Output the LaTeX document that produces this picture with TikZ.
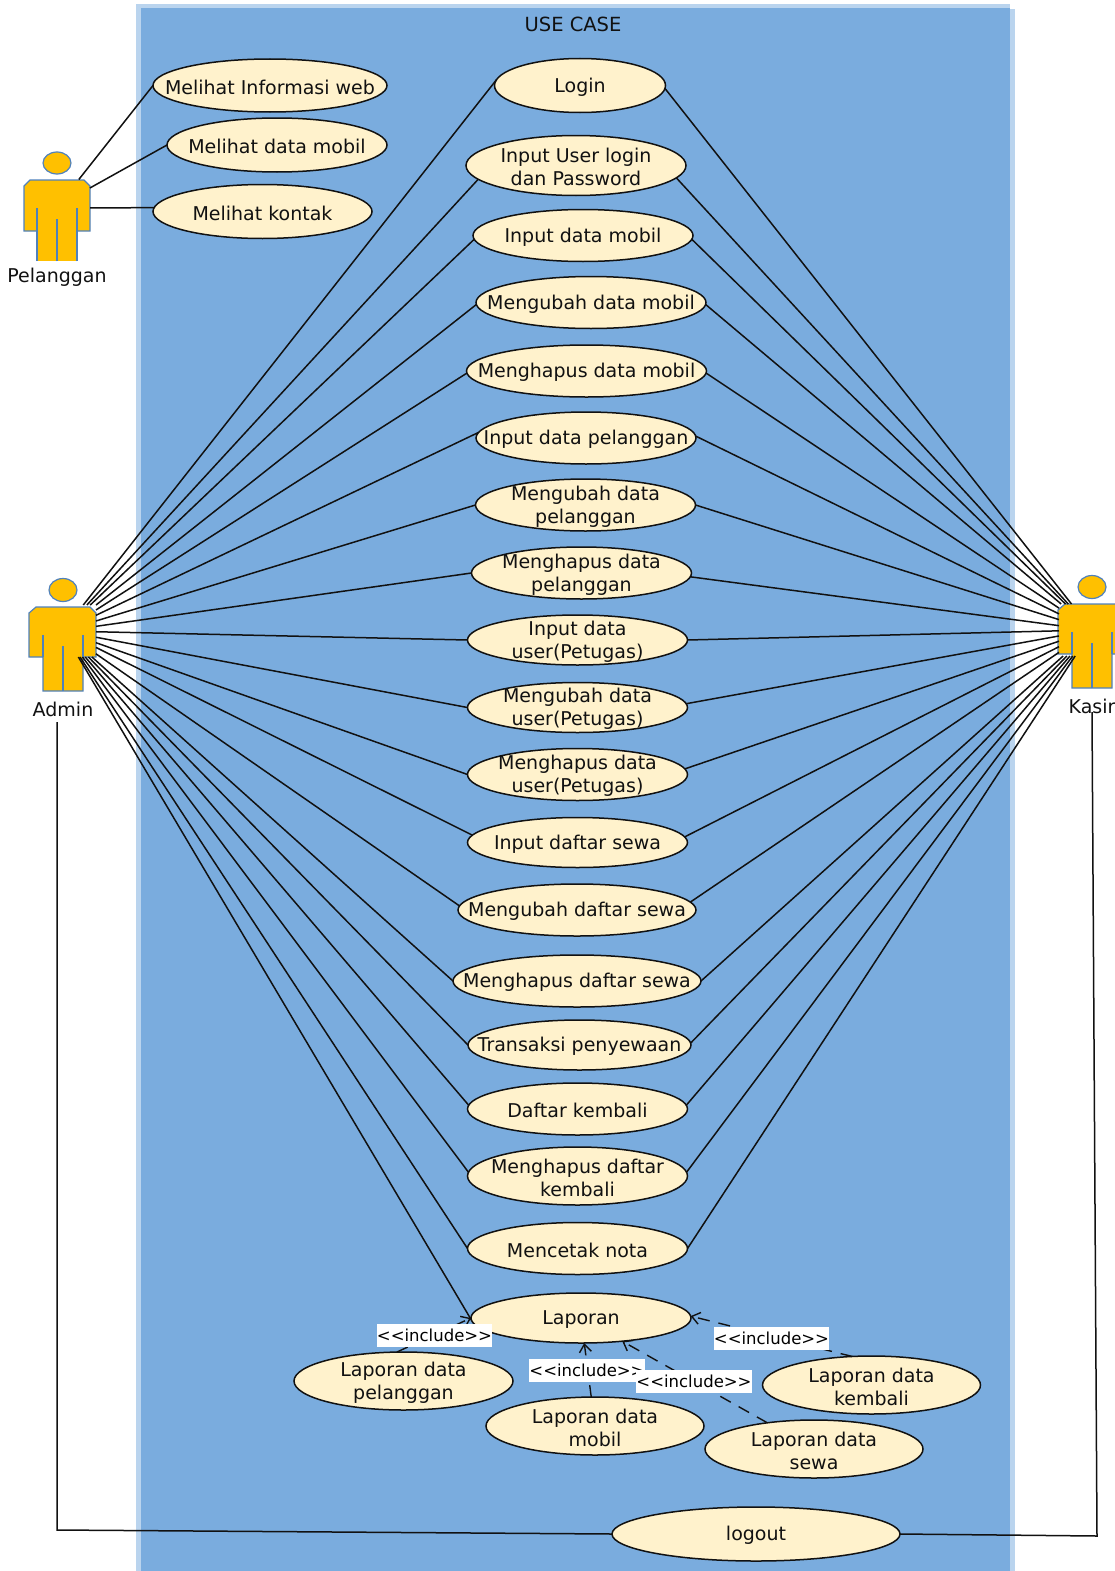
\documentclass[tikz,border=0pt]{standalone}
\usepackage{fontspec}
\setmainfont{DejaVu Sans}
\usetikzlibrary{shapes.geometric,arrows.meta}
\definecolor{panel}{HTML}{7AACDE}
\definecolor{panellight}{HTML}{BAD4EE}
\definecolor{ucfill}{HTML}{FFF2CC}
\definecolor{actorfill}{HTML}{FFC000}
\definecolor{actorline}{HTML}{4F81BD}
\definecolor{ink}{HTML}{111111}
\tikzset{
  ucase/.style={ellipse,draw=ink,line width=1.5pt,fill=ucfill,inner sep=0pt,outer sep=0pt},
  uctext/.style={align=center,text=ink,inner sep=0pt,font=\fontsize{19}{23}\selectfont},
  conn/.style={draw=ink,line width=1.5pt},
  incl/.style={draw=ink,line width=1.4pt,dash pattern=on 12pt off 9pt,-{Straight Barb[length=8pt,width=12pt]}},
  incllabel/.style={fill=white,text=black,inner sep=0pt,minimum width=115pt,minimum height=23pt,font=\fontsize{16.5}{20}\selectfont},
  actorshape/.style={draw=actorline,line width=1.2pt,fill=actorfill},
  actorinner/.style={draw=actorline,line width=1.2pt},
  actorhit/.style={rectangle,inner sep=0pt,outer sep=0pt,minimum width=66pt,minimum height=52pt},
  actorname/.style={text=ink,inner sep=0pt,font=\fontsize{19}{22}\selectfont},
}
\newcommand{\uc}[6]{%
  \node[ucase,minimum width={2*#4},minimum height={2*#5}] (#1) at (#2,#3) {};
  \node[uctext] (#1-t) at (#2,#3+1.5) {#6};}
\newcommand{\manfigure}[2]{%
  \begin{scope}[shift={(#1,#2)}]
    \fill[actorfill,draw=actorline,line width=1.2pt] (0,0) ellipse [x radius=14,y radius=11.5];
    \path[actorshape] (-27,17) -- (-34,23) -- (-34,67) -- (-20,67) -- (-20,101) -- (20,101) -- (20,67) -- (33,67) -- (33,23) -- (27,17) -- cycle;
    \draw[actorinner] (-20,67) -- (-20,45) (20,67) -- (20,45) (0,101) -- (0,56);
  \end{scope}}
\begin{document}
\begin{tikzpicture}[x=1pt,y=-1pt]
\useasboundingbox (0,0) rectangle (1115,1571);
% panel
\fill[panellight] (136,4) rectangle (1010,1571);
\fill[panellight] (1010,9) rectangle (1015,1571);
\fill[panel] (141,8) rectangle (1010,1571);
\node[text=ink,inner sep=0pt,font=\fontsize{19.5}{22}\selectfont] (title) at (573,24.5) {USE CASE};
% actors
\begin{scope}[shift={(57,163)}]
  \fill[actorfill,draw=actorline,line width=1.2pt] (0,0) ellipse [x radius=14,y radius=11];
  \path[actorshape] (-27,17) -- (-33,23) -- (-33,68) -- (-20,68) -- (20,68) -- (33,68) -- (33,23) -- (27,17) -- cycle;
  \fill[actorfill] (-19.4,60) rectangle (19.4,98);
  \draw[actorinner] (-20,98) -- (-20,45) (20,98) -- (20,45) (0,98) -- (0,56);
\end{scope}
\manfigure{63}{590}
\manfigure{1092}{587}
\node[actorhit] (pelanggan) at (57,205.5) {};
\node[actorhit] (admin) at (63,631) {};
\node[actorhit] (kasir) at (1092,630) {};
\node[actorname] (pelanggan-t) at (57,277.5) {Pelanggan};
\node[actorname] (admin-t) at (63,709) {Admin};
\node[actorname] (kasir-t) at (1092,706) {Kasir};
% customer use cases
\uc{info}{270}{85.5}{117}{26.5}{Melihat Informasi web}
\uc{lihatmobil}{277}{145}{110}{27}{Melihat data mobil}
\uc{kontak}{262.5}{211.5}{109.5}{27}{Melihat kontak}
% main use cases
\uc{login}{580}{85.5}{85.5}{27}{Login}
\uc{inuser}{576}{165.5}{110}{30}{Input User login\\dan Password}
\uc{inmobil}{583}{235.5}{110}{26}{Input data mobil}
\uc{ubmobil}{591}{302.5}{115}{26}{Mengubah data mobil}
\uc{hpmobil}{586.5}{371}{120}{26}{Menghapus data mobil}
\uc{inpel}{586}{438}{110}{26}{Input data pelanggan}
\uc{ubpel}{585.5}{505}{110}{26}{Mengubah data\\pelanggan}
\uc{hppel}{581.5}{573}{110}{26}{Menghapus data\\pelanggan}
\uc{inpet}{577.5}{640}{110}{25}{Input data\\user(Petugas)}
\uc{ubpet}{577.5}{707.5}{110}{25}{Mengubah data\\user(Petugas)}
\uc{hppet}{577.5}{774.5}{110}{26}{Menghapus data\\user(Petugas)}
\uc{insewa}{577.5}{842.5}{110}{25}{Input daftar sewa}
\uc{ubsewa}{577}{910}{119}{26}{Mengubah daftar sewa}
\uc{hpsewa}{577}{981}{124}{26}{Menghapus daftar sewa}
\uc{transaksi}{579.5}{1045}{111.5}{25}{Transaksi penyewaan}
\uc{kembali}{577.5}{1109}{110}{26}{Daftar kembali}
\uc{hpkembali}{577.5}{1176}{110}{29}{Menghapus daftar\\kembali}
\uc{nota}{577.5}{1248.5}{110}{26}{Mencetak nota}
\uc{laporan}{581}{1318}{110}{25}{Laporan}
\uc{lappel}{403.5}{1381}{109.5}{29}{Laporan data\\pelanggan}
\uc{lapmobil}{595}{1426}{109}{29}{Laporan data\\mobil}
\uc{lapkembali}{871.5}{1385}{109}{29}{Laporan data\\kembali}
\uc{lapsewa}{814}{1449}{109}{29}{Laporan data\\sewa}
\uc{logout}{756}{1534}{144}{27}{logout}
% customer connectors
\draw[conn] (pelanggan.50.5) -- (info.west);
\draw[conn] (pelanggan.28) -- (lihatmobil.west);
\draw[conn] (pelanggan.-4) -- (kontak.178.7);
% admin and cashier connectors
\foreach \n/\a/\b in {login/176.6/-2,inuser/188/-7.6,inmobil/182/-2.6,ubmobil/181.5/-1.5,hpmobil/181.5/-1.5,inpel/177.4/1,ubpel/180/0,hppel/180/-2,inpet/180/0,ubpet/180/2.6,hppet/180/3,insewa/176.8/3.7,ubsewa/178.5/4,hpsewa/180/0,transaksi/180/1,kembali/178/2.5,hpkembali/178/2,nota/180/0}{
  \draw[conn] (admin) -- (\n.\a);
  \draw[conn] (kasir) -- (\n.\b);
}
\draw[conn] (admin) -- (laporan.181);
% logout
\coordinate (adminfoot) at (57,722);
\coordinate (adminbend) at (57,1530);
\coordinate (kasirfoot) at (1092,712);
\coordinate (kasirbend) at (1097,1536);
\draw[conn] (adminfoot) -- (adminbend) -- (logout.west);
\draw[conn] (kasirfoot) -- (kasirbend) -- (logout.east);
% includes
\draw[incl] (lappel.103) -- (laporan.180);
\draw[incl] (lapmobil) -- (laporan);
\draw[incl] (lapsewa) -- (laporan);
\draw[incl] (lapkembali.124) -- (laporan.1.6);
\node[incllabel] (l1) at (434.5,1335.5) {<{}<include>{}>};
\node[incllabel] (l2) at (771.5,1338.5) {<{}<include>{}>};
\node[incllabel] (l3) at (587,1370.5) {<{}<include>{}>};
\node[incllabel] (l4) at (694,1381.5) {<{}<include>{}>};
\end{tikzpicture}
\end{document}
